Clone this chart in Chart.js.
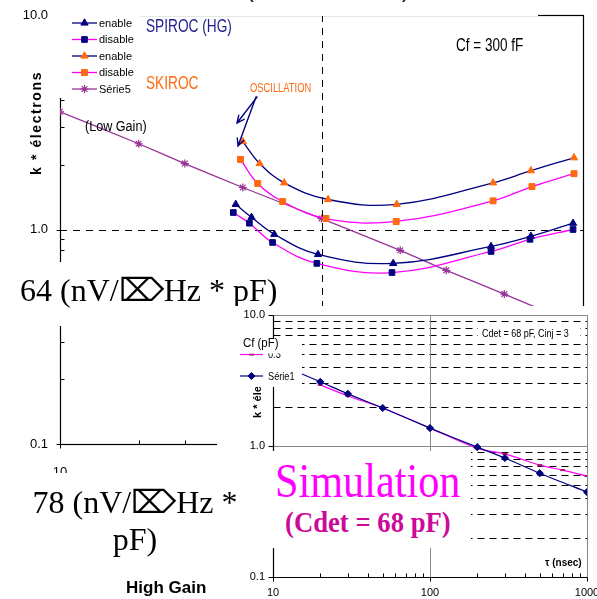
<!DOCTYPE html>
<html>
<head>
<meta charset="utf-8">
<title>k * électrons vs shaping time</title>
<script src="https://cdn.jsdelivr.net/npm/chart.js@4.4.1/dist/chart.umd.min.js"></script>
<style>
  html, body { margin: 0; padding: 0; background: #fff; }
  #page { position: relative; width: 597px; height: 599px; overflow: hidden; background: #fff;
          font-family: "Liberation Sans", Arial, sans-serif; color: #000; }
  .abs { position: absolute; white-space: nowrap; }
  .white { position: absolute; background: #fff; }
  .serif { font-family: "Liberation Serif", "Times New Roman", serif; }
</style>
</head>
<body>
<div id="page">
  <canvas id="main" class="abs" width="597" height="599" style="left:0;top:0"></canvas>

  <!-- slide title strip above the plot -->
  <div class="white" style="left:54px;top:0;width:484px;height:16px;overflow:hidden">
    <span class="abs" style="left:193px;top:-20px;font-size:20px">(</span>
    <span class="abs" style="left:348px;top:-20px;font-size:20px">)</span>
  </div>

  <div class="abs" style="left:29px;top:175px;transform-origin:0 0;transform:rotate(-90deg);font-weight:bold;font-size:14px;line-height:14px;letter-spacing:1.6px">k * électrons</div>
  <div class="abs" style="left:146px;top:16px;font-size:19px;line-height:20px;color:#1c1c8c;transform-origin:0 0;transform:scaleX(0.72)">SPIROC (HG)</div>
  <div class="abs" style="left:146px;top:73px;font-size:19px;line-height:20px;color:#ff6a10;transform-origin:0 0;transform:scaleX(0.72)">SKIROC</div>
  <div class="abs" style="left:250px;top:81px;font-size:12px;line-height:14px;color:#ff6a10;transform-origin:0 0;transform:scaleX(0.78)">OSCILLATION</div>
  <div class="abs" style="left:85px;top:118px;font-size:14px;line-height:16px;transform-origin:0 0;transform:scaleX(0.9)">(Low Gain)</div>
  <div class="abs" style="left:456px;top:35px;font-size:18px;line-height:20px;transform-origin:0 0;transform:scaleX(0.75)">Cf = 300 fF</div>

  <svg class="abs" style="left:0;top:0" width="597" height="599">
    <g stroke="#000080" stroke-width="1.4" fill="none" stroke-linecap="round">
      <path d="M257 97 L237 123 M244.1 119.3 L237 123 L238.8 115.2"/>
      <path d="M256 97 L238 146 M243.7 140.4 L238 146 L237.3 138"/>
    </g>
  </svg>

  <div class="white" style="left:8px;top:262px;width:277px;height:64px"></div>
  <div class="abs serif" style="left:20px;top:274px;font-size:32px;line-height:32px">64 (nV/⌦Hz * pF)</div>

  <canvas id="sim" class="abs" width="380" height="293" style="left:217px;top:306px;background:#fff"></canvas>

  <div class="white" style="left:262px;top:451px;width:209px;height:97px"></div>
  <div class="abs serif" style="left:275px;top:457px;font-size:48px;line-height:48px;color:#ff00ff;transform-origin:0 0;transform:scaleX(0.88)">Simulation</div>
  <div class="abs serif" style="left:285px;top:507px;font-size:30px;line-height:30px;font-weight:bold;color:#cc0a99;transform-origin:0 0;transform:scaleX(0.89)">(Cdet = 68 pF)</div>

  <div class="white" style="left:0;top:473px;width:217px;height:126px"></div>
  <div class="abs serif" style="left:0;top:484px;width:270px;text-align:center;white-space:normal;font-size:32px;line-height:37px">78 (nV/⌦Hz *<br>pF)</div>
  <div class="abs" style="left:126px;top:578px;font-size:17px;line-height:20px;font-weight:bold">High Gain</div>
</div>

<script>
// ---- main plot: noise (k * électrons) vs shaping time, Cf = 300 fF ----
const MAIN_X_MAJOR = [10, 100, 1000];
const MAIN_Y_MAJOR = [0.1, 1, 10];

const spirocEnableT  = [47, 54, 66, 97, 188, 445, 632, 916];
const spirocEnableK  = [1.31, 1.14, 0.95, 0.765, 0.695, 0.834, 0.93, 1.07];
const spirocDisableT = [46, 53, 65, 96, 186, 445, 627, 916];
const spirocDisableK = [1.20, 1.07, 0.87, 0.695, 0.63, 0.79, 0.90, 1.0];
const skirocEnableT  = [50, 58, 72, 106, 194, 453, 632, 924];
const skirocEnableK  = [2.57, 2.03, 1.65, 1.38, 1.31, 1.65, 1.88, 2.16];
const skirocDisableT = [49, 57, 71, 104, 193, 453, 638, 924];
const skirocDisableK = [2.12, 1.64, 1.35, 1.125, 1.09, 1.36, 1.585, 1.82];
const serie5T        = [10, 20, 30, 50, 100, 200, 300, 500, 1000];
const serie5K        = [3.54, 2.51, 2.03, 1.57, 1.125, 0.80, 0.645, 0.50, 0.35];

// ---- inset: simulation, Cdet = 68 pF ----
const SIM_X_MAJOR = [10, 100, 1000];
const SIM_Y_MAJOR = [0.1, 1, 10];
const simCf03T  = [20, 30, 50, 100, 200, 300, 500, 700, 1000];
const simCf03K  = [2.93, 2.41, 1.95, 1.37, 0.96, 0.87, 0.715, 0.655, 0.59];
const simSerie1T = [10, 20, 30, 50, 100, 200, 300, 500, 1000];
const simSerie1K = [4.4, 3.09, 2.5, 1.95, 1.37, 0.98, 0.81, 0.62, 0.445];

const NAVY = '#000080', MAGENTA = '#ff00ff', ORANGE = '#ff6a10', PURPLE = '#993399';

function pts(xs, ys) { return xs.map((t, i) => ({ x: t, y: ys[i] })); }
function minorValues(lo, hi) {
  const out = [];
  for (let d = lo; d < hi * 0.999; d *= 10)
    for (let m = 2; m <= 9; m++) out.push(+(d * m).toPrecision(6));
  return out;
}
function seg(ctx, x1, y1, x2, y2) { ctx.beginPath(); ctx.moveTo(x1, y1); ctx.lineTo(x2, y2); ctx.stroke(); }
const crisp = v => Math.round(v) + 0.5;

function series(label, xs, ys, lineColor, markColor, style, radius, extra) {
  return Object.assign({
    label, data: pts(xs, ys), showLine: true, fill: false, tension: 0.4,
    borderColor: lineColor, borderWidth: 1.3,
    pointStyle: style, pointRadius: radius, pointBorderWidth: 1,
    pointBackgroundColor: markColor, pointBorderColor: markColor
  }, extra || {});
}

function drawLegendRow(ctx, ds, x0, x1, y, textX, font, squeeze) {
  ctx.save();
  ctx.setLineDash([]);
  ctx.strokeStyle = ds.borderColor; ctx.lineWidth = ds.borderWidth;
  seg(ctx, x0, y, x1, y);
  ctx.fillStyle = ds.pointBackgroundColor; ctx.strokeStyle = ds.pointBorderColor;
  ctx.lineWidth = ds.pointBorderWidth;
  Chart.helpers.drawPoint(ctx, { pointStyle: ds.pointStyle, radius: ds.pointRadius,
    borderWidth: ds.pointBorderWidth, rotation: 0 }, (x0 + x1) / 2, y);
  ctx.fillStyle = '#000'; ctx.font = font; ctx.textBaseline = 'middle'; ctx.textAlign = 'left';
  ctx.translate(textX, y + 0.5); ctx.scale(squeeze, 1);
  ctx.fillText(ds.label, 0, 0);
  ctx.restore();
}

const mainAxes = {
  id: 'mainAxes',
  beforeDatasetsDraw(chart) {
    const { ctx, chartArea: a, scales: { x, y } } = chart;
    ctx.save();
    ctx.strokeStyle = '#000';
    ctx.lineWidth = 1;
    ctx.setLineDash([7, 6]);
    const y1 = crisp(y.getPixelForValue(1));
    seg(ctx, a.left, y1, a.right, y1);
    const x100 = crisp(x.getPixelForValue(100));
    seg(ctx, x100, a.top, x100, a.bottom);
    ctx.setLineDash([]);
    const L = crisp(a.left), R = crisp(a.right), T = crisp(a.top), B = crisp(a.bottom);
    ctx.lineWidth = 1.2;
    ctx.strokeRect(L, T, R - L, B - T);
    ctx.lineWidth = 1;
    MAIN_Y_MAJOR.forEach(v => { const p = crisp(y.getPixelForValue(v)); seg(ctx, L - 4, p, L, p); });
    minorValues(0.1, 10).forEach(v => { const p = crisp(y.getPixelForValue(v)); seg(ctx, L, p, L + 4, p); });
    MAIN_X_MAJOR.forEach(v => { const p = crisp(x.getPixelForValue(v)); seg(ctx, p, B, p, B + 4); });
    minorValues(10, 1000).forEach(v => { const p = crisp(x.getPixelForValue(v)); seg(ctx, p, B - 4, p, B); });
    ctx.restore();
  },
  afterDraw(chart) {
    const ctx = chart.ctx;
    ctx.save();
    ctx.fillStyle = '#fff';
    ctx.fillRect(54, 16, 86, 82);
    chart.data.datasets.forEach((ds, i) => {
      drawLegendRow(ctx, ds, 72, 97, 23 + i * 16.5, 99, '11px "Liberation Sans"', 1);
    });
    ctx.restore();
  }
};

new Chart(document.getElementById('main'), {
  type: 'scatter',
  data: {
    datasets: [
      series('enable',  spirocEnableT,  spirocEnableK,  NAVY,    NAVY,   'triangle', 4.2),
      series('disable', spirocDisableT, spirocDisableK, MAGENTA, NAVY,   'rect', 4),
      series('enable',  skirocEnableT,  skirocEnableK,  NAVY,    ORANGE, 'triangle', 4.2),
      series('disable', skirocDisableT, skirocDisableK, MAGENTA, ORANGE, 'rect', 4.2),
      series('Série5',  serie5T,        serie5K,        PURPLE,  PURPLE, 'star', 4, { pointBorderWidth: 1.2, tension: 0.2 })
    ]
  },
  options: {
    responsive: false, animation: false, devicePixelRatio: 1,
    layout: { padding: { left: 0, top: 15, right: 14, bottom: 0 } },
    plugins: { legend: { display: false }, tooltip: { enabled: false } },
    scales: {
      x: {
        type: 'logarithmic', min: 10, max: 1000,
        grid: { display: false, drawTicks: false }, border: { display: false },
        afterBuildTicks: s => { s.ticks = MAIN_X_MAJOR.map(v => ({ value: v })); },
        afterFit: s => { s.height = 155; s.paddingLeft = 0; s.paddingRight = 0; },
        ticks: { autoSkip: false, maxRotation: 0, padding: 21, color: '#000',
                 font: { family: 'Liberation Sans', size: 13 }, callback: v => String(v) }
      },
      y: {
        type: 'logarithmic', min: 0.1, max: 10,
        grid: { display: false, drawTicks: false }, border: { display: false },
        afterBuildTicks: s => { s.ticks = MAIN_Y_MAJOR.map(v => ({ value: v })); },
        afterFit: s => { s.width = 60; s.paddingTop = 0; s.paddingBottom = 0; },
        ticks: { autoSkip: false, padding: 12, color: '#000',
                 font: { family: 'Liberation Sans', size: 13 }, callback: v => Number(v).toFixed(1) }
      }
    }
  },
  plugins: [mainAxes]
});

const simAxes = {
  id: 'simAxes',
  beforeDatasetsDraw(chart) {
    const { ctx, chartArea: a, scales: { x, y } } = chart;
    const L = crisp(a.left), R = crisp(a.right), T = crisp(a.top), B = crisp(a.bottom);
    ctx.save();
    ctx.lineWidth = 1;
    ctx.strokeStyle = '#000';
    ctx.setLineDash([7, 5]);
    minorValues(0.1, 10).forEach(v => { const p = crisp(y.getPixelForValue(v)); seg(ctx, L, p, R, p); });
    ctx.setLineDash([]);
    ctx.strokeStyle = '#868686';
    const y1 = crisp(y.getPixelForValue(1));
    seg(ctx, L, y1, R, y1);
    const x100 = crisp(x.getPixelForValue(100));
    seg(ctx, x100, T, x100, B);
    seg(ctx, L, T, R, T);
    seg(ctx, R, T, R, B);
    ctx.strokeStyle = '#000';
    ctx.lineWidth = 1.2;
    seg(ctx, L, T, L, B);
    seg(ctx, L, B, R, B);
    ctx.lineWidth = 1;
    SIM_Y_MAJOR.forEach(v => { const p = crisp(y.getPixelForValue(v)); seg(ctx, L - 5, p, L, p); });
    SIM_X_MAJOR.forEach(v => { const p = crisp(x.getPixelForValue(v)); seg(ctx, p, B, p, B + 4); });
    minorValues(10, 1000).forEach(v => { const p = crisp(x.getPixelForValue(v)); seg(ctx, p, B - 4, p, B); });
    ctx.restore();
  },
  afterDraw(chart) {
    const ctx = chart.ctx;
    const ds = chart.data.datasets;
    ctx.save();
    // axis title, its upper part sits under the legend box
    ctx.save();
    ctx.translate(41, 112); ctx.rotate(-Math.PI / 2);
    ctx.font = 'bold 11px "Liberation Sans"'; ctx.fillStyle = '#000';
    ctx.textAlign = 'left'; ctx.textBaseline = 'middle';
    ctx.fillText('k * électrons', 0, 0);
    ctx.restore();
    // legend
    ctx.fillStyle = '#fff';
    ctx.fillRect(17, 32, 68, 49);
    drawLegendRow(ctx, ds[0], 23, 46, 48.5, 51, '11.5px "Liberation Sans"', 0.8);
    drawLegendRow(ctx, ds[1], 23, 46, 70, 51, '11.5px "Liberation Sans"', 0.8);
    ctx.fillStyle = '#fff';
    ctx.fillRect(17, 32, 68, 15.5);
    ctx.fillStyle = '#000';
    ctx.font = '12px "Liberation Sans"'; ctx.textBaseline = 'middle'; ctx.textAlign = 'left';
    ctx.save(); ctx.translate(26, 38); ctx.scale(0.95, 1); ctx.fillText('Cf (pF)', 0, 0); ctx.restore();
    // note box
    ctx.fillStyle = '#fff';
    ctx.fillRect(261, 20, 102, 15);
    ctx.fillStyle = '#000';
    ctx.font = '11.5px "Liberation Sans"';
    ctx.save(); ctx.translate(265, 28); ctx.scale(0.78, 1); ctx.fillText('Cdet = 68 pF, Cinj = 3', 0, 0); ctx.restore();
    // x axis title
    ctx.font = 'bold 10px "Liberation Sans"';
    ctx.fillText('τ (nsec)', 328, 257);
    ctx.restore();
  }
};

new Chart(document.getElementById('sim'), {
  type: 'scatter',
  data: {
    datasets: [
      { label: '0.3', data: pts(simCf03T, simCf03K), showLine: true, fill: false, tension: 0.3,
        borderColor: MAGENTA, borderWidth: 1.2, order: 1,
        pointStyle: 'line', pointRadius: 2.5, pointBorderWidth: 2,
        pointBackgroundColor: '#b0106e', pointBorderColor: '#b0106e' },
      { label: 'Série1', data: pts(simSerie1T, simSerie1K), showLine: true, fill: false, tension: 0.3,
        borderColor: NAVY, borderWidth: 1.2, order: 0,
        pointStyle: 'rectRot', pointRadius: 3.6, pointBorderWidth: 1,
        pointBackgroundColor: NAVY, pointBorderColor: NAVY }
    ]
  },
  options: {
    responsive: false, animation: false, devicePixelRatio: 1,
    layout: { padding: { left: 0, top: 9, right: 10, bottom: 0 } },
    plugins: { legend: { display: false }, tooltip: { enabled: false } },
    scales: {
      x: {
        type: 'logarithmic', min: 10, max: 1000,
        grid: { display: false, drawTicks: false }, border: { display: false },
        afterBuildTicks: s => { s.ticks = SIM_X_MAJOR.map(v => ({ value: v })); },
        afterFit: s => { s.height = 22; s.paddingLeft = 0; s.paddingRight = 0; },
        ticks: { autoSkip: false, maxRotation: 0, padding: 9, color: '#000',
                 font: { family: 'Liberation Sans', size: 11 }, callback: v => String(v) }
      },
      y: {
        type: 'logarithmic', min: 0.1, max: 10,
        grid: { display: false, drawTicks: false }, border: { display: false },
        afterBuildTicks: s => { s.ticks = SIM_Y_MAJOR.map(v => ({ value: v })); },
        afterFit: s => { s.width = 56; s.paddingTop = 0; s.paddingBottom = 0; },
        ticks: { autoSkip: false, padding: 8, color: '#000',
                 font: { family: 'Liberation Sans', size: 11 }, callback: v => Number(v).toFixed(1) }
      }
    }
  },
  plugins: [simAxes]
});
</script>
</body>
</html>
